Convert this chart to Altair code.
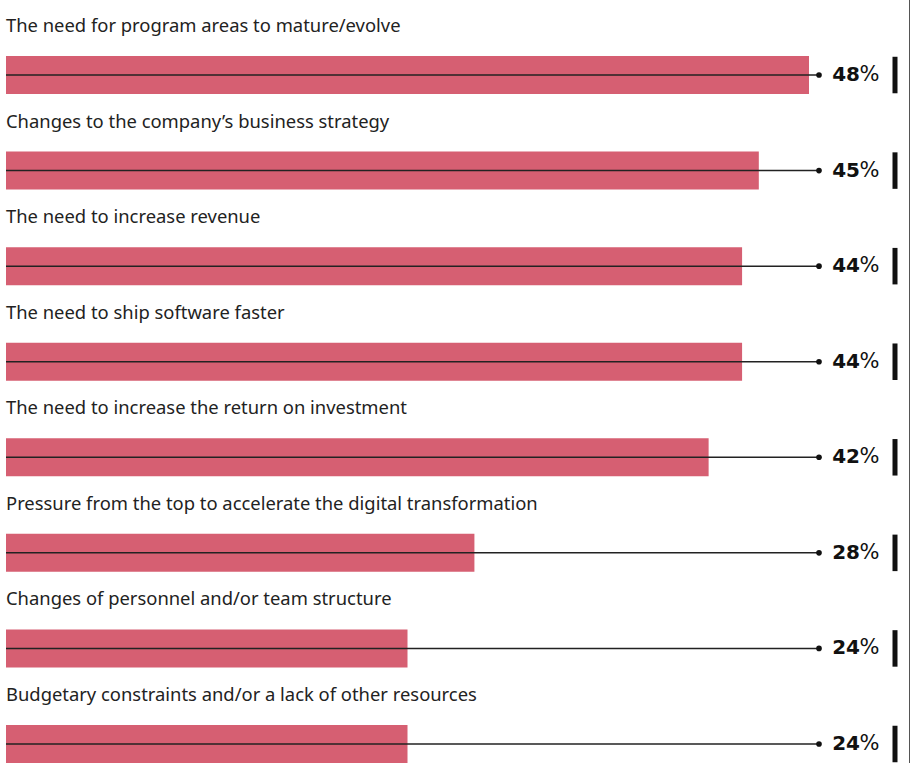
import altair as alt
import pandas as pd

categories = [
    "The need for program areas to mature/evolve",
    "Changes to the company\u2019s business strategy",
    "The need to increase revenue",
    "The need to ship software faster",
    "The need to increase the return on investment",
    "Pressure from the top to accelerate the digital transformation",
    "Changes of personnel and/or team structure",
    "Budgetary constraints and/or a lack of other resources",
]
values = [48, 45, 44, 44, 42, 28, 24, 24]

df = pd.DataFrame({
    "category": categories,
    "value": values,
    "order": list(range(len(categories))),
    "pct": ["%"] * len(categories),
})

y = alt.Y("order:Q", axis=None,
          scale=alt.Scale(domain=[-0.785, 7.293], reverse=True, nice=False, zero=False, padding=0))
base = alt.Chart(df).encode(y=y)

bars = base.mark_bar(color="#d65f72", size=38, orient="horizontal").encode(
    x=alt.X("value:Q", axis=None, scale=alt.Scale(domain=[0, 48], nice=False, padding=0)),
)
line = base.mark_rule(color="#222222", strokeWidth=1.5).encode(
    x=alt.value(0), x2=alt.value(813)
)
dot = base.mark_point(filled=True, color="#111111", size=32, opacity=1).encode(
    x=alt.value(813)
)
labels = base.mark_text(align="left", baseline="middle", dy=-49, font="Noto Sans",
                        fontSize=18.4, color="#222222").encode(
    x=alt.value(0), text="category:N"
)
nums = base.mark_text(align="right", baseline="middle", font="DejaVu Sans", fontWeight="bold",
                      fontSize=20, color="#111111").encode(
    x=alt.value(854), text="value:Q"
)
pcts = base.mark_text(align="left", baseline="middle", font="DejaVu Sans", fontWeight="normal",
                      fontSize=21, color="#111111").encode(
    x=alt.value(853.5), text="pct:N"
)
vbar = base.mark_bar(color="#111111", size=36.5, orient="horizontal").encode(
    x=alt.value(886.5), x2=alt.value(891.5)
)
border = alt.Chart(pd.DataFrame({"a": [0]})).mark_rule(color="#555555", strokeWidth=1).encode(
    x=alt.value(903.5), y=alt.value(0), y2=alt.value(763)
)

chart = alt.layer(bars, line, dot, labels, nums, pcts, vbar, border).properties(
    width=803, height=772,
    padding={"left": 6, "top": 0, "right": 102, "bottom": 0},
    autosize=alt.AutoSizeParams(type="none"),
    background="white",
).configure_view(stroke=None)

chart.save("out.html", embed_options={"renderer": "svg", "actions": False})
